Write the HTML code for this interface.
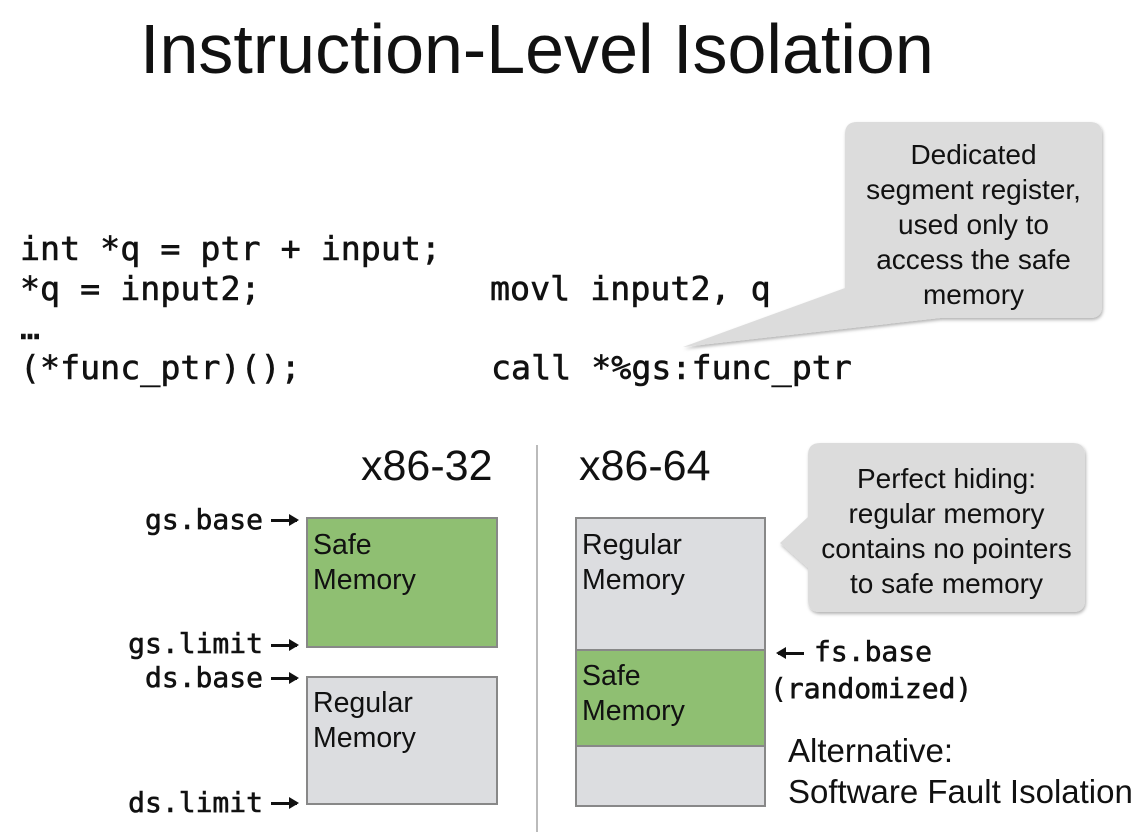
<!DOCTYPE html>
<html><head><meta charset="utf-8"><style>
body{margin:0;width:1138px;height:832px;background:#fff;position:relative;overflow:hidden;font-family:"Liberation Sans",sans-serif;color:#111}
.t{position:absolute;white-space:pre;line-height:1}
.m{font-family:"DejaVu Sans Mono","Liberation Mono",monospace;-webkit-text-stroke:0.6px #111}
.c{font-size:33.3px}
.l{font-size:28px}
.b{font-size:28.5px}
.s{font-size:28px;text-align:center}
.r{text-align:right;width:200px}
.a{position:absolute;width:26px;height:3px;background:#111}
.a:after{content:"";position:absolute;right:-2px;top:-5px;border-left:10px solid #111;border-top:6.5px solid transparent;border-bottom:6.5px solid transparent}
</style></head><body>
<svg width="1138" height="832" style="position:absolute;left:0;top:0">
<defs><filter id="sh" x="-10%" y="-10%" width="130%" height="130%"><feDropShadow dx="1" dy="2" stdDeviation="1.5" flood-color="#000" flood-opacity="0.3"/></filter></defs>
<path d="M857,122 H1090 Q1102,122 1102,134 V306 Q1102,318 1090,318 H940 L683,347 L845,288 V134 Q845,122 857,122 Z" fill="#dcdcdc" filter="url(#sh)"/>
<path d="M820,443 H1073 Q1085,443 1085,455 V600 Q1085,612 1073,612 H820 Q808,612 808,600 V568 L780,543 L808,517 V455 Q808,443 820,443 Z" fill="#dcdcdc" filter="url(#sh)"/>
<line x1="537" y1="445" x2="537" y2="832" stroke="#bbb" stroke-width="2"/>
<rect x="307" y="518" width="190" height="129" fill="#8fbf72" stroke="#888" stroke-width="2"/>
<rect x="307" y="677" width="190" height="127" fill="#dcdde0" stroke="#888" stroke-width="2"/>
<rect x="576" y="518" width="189" height="288" fill="#dcdde0" stroke="#888" stroke-width="2"/>
<rect x="576" y="650" width="189" height="96" fill="#8fbf72" stroke="#888" stroke-width="2"/>
</svg>
<div class="t" style="left:140px;top:14px;font-size:70px">Instruction-Level Isolation</div>
<div class="t m c" style="left:20px;top:232px">int *q = ptr + input;</div>
<div class="t m c" style="left:20px;top:272px">*q = input2;</div>
<div class="t m c" style="left:490px;top:272px">movl input2, q</div>
<div class="t m c" style="left:20px;top:311px">…</div>
<div class="t m c" style="left:20px;top:351px">(*func_ptr)();</div>
<div class="t m c" style="left:491px;top:351px">call *%gs:func_ptr</div>
<div class="t s" style="left:845px;top:137px;width:257px;line-height:35px">Dedicated
segment register,
used only to
access the safe
memory</div>
<div class="t s" style="left:808px;top:461px;width:277px;line-height:35px">Perfect hiding:
regular memory
contains no pointers
to safe memory</div>
<div class="t" style="left:361px;top:445px;font-size:43px">x86-32</div>
<div class="t" style="left:579px;top:445px;font-size:43px">x86-64</div>
<div class="t m l r" style="left:63px;top:506px">gs.base</div><div class="a" style="left:271px;top:519px"></div>
<div class="t m l r" style="left:63px;top:630px">gs.limit</div><div class="a" style="left:271px;top:644px"></div>
<div class="t m l r" style="left:63px;top:664px">ds.base</div><div class="a" style="left:271px;top:677px"></div>
<div class="t m l r" style="left:63px;top:789px">ds.limit</div><div class="a" style="left:271px;top:802px"></div>
<div class="t b" style="left:313px;top:528px;line-height:35px">Safe
Memory</div>
<div class="t b" style="left:313px;top:686px;line-height:35px">Regular
Memory</div>
<div class="t b" style="left:582px;top:528px;line-height:35px">Regular
Memory</div>
<div class="t b" style="left:582px;top:659px;line-height:35px">Safe
Memory</div>
<div class="a" style="left:778px;top:652px;transform:scaleX(-1)"></div>
<div class="t m l" style="left:814px;top:638px">fs.base</div>
<div class="t m l" style="left:770px;top:675px">(randomized)</div>
<div class="t" style="left:788px;top:730px;font-size:33px;line-height:41px">Alternative:
Software Fault Isolation</div>
</body></html>
